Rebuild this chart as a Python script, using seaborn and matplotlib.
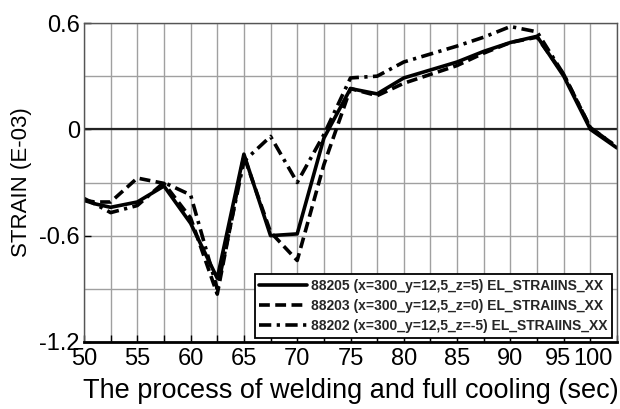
import numpy as np
import pandas as pd
import matplotlib
matplotlib.use("Agg")
import matplotlib.pyplot as plt
import matplotlib.transforms as mtransforms
from matplotlib.ticker import MultipleLocator, FixedLocator
import seaborn as sns

# ---- data ----
time_s = [50, 51, 52.5, 55, 57.5, 60, 62.5, 65, 67.5, 70, 72.5, 75, 77.5,
          80, 85, 87.5, 90, 92.5, 95, 97.5, 100]
strain_88205 = [-0.40, -0.42, -0.44, -0.41, -0.32, -0.53, -0.84, -0.14, -0.60,
                -0.59, -0.05, 0.23, 0.20, 0.29, 0.38, 0.44, 0.49, 0.525, 0.30,
                0.00, -0.105]
strain_88203 = [-0.40, -0.41, -0.41, -0.275, -0.305, -0.50, -0.93, -0.15, -0.58,
                -0.74, -0.20, 0.23, 0.19, 0.26, 0.36, 0.43, 0.49, 0.52, 0.31,
                0.01, -0.10]
strain_88202 = [-0.39, -0.42, -0.47, -0.43, -0.30, -0.37, -0.90, -0.18, -0.04,
                -0.30, -0.03, 0.29, 0.30, 0.38, 0.47, 0.52, 0.58, 0.55, 0.31,
                0.01, -0.10]
series_labels = ["88205 (x=300_y=12,5_z=5) EL_STRAIINS_XX",
                 "88203 (x=300_y=12,5_z=0) EL_STRAIINS_XX",
                 "88202 (x=300_y=12,5_z=-5) EL_STRAIINS_XX"]
x_ticks = [50, 55, 60, 65, 70, 75, 80, 85, 90, 95, 100]
y_ticks = [-1.2, -0.6, 0, 0.6]
y_tick_labels = ["-1.2", "-0.6", "0", "0.6"]
x_label = "The process of welding and full cooling (sec)"
y_label = "STRAIN (E-03)"

sns.set_theme(style="white")
plt.rcParams["font.family"] = ["Liberation Sans", "DejaVu Sans"]

fig = plt.figure(figsize=(6.2, 4.09), dpi=100)
ax = fig.add_axes([84 / 620, 1 - 342 / 409, 533 / 620, 319 / 409])

styles = ["-", "--", "-."]
dash_patterns = [None, (3.0, 1.5), (3.4, 1.5, 0.9, 1.5)]
for vals, lab, ls, dp in zip([strain_88205, strain_88203, strain_88202],
                             series_labels, styles, dash_patterns):
    sns.lineplot(x=time_s, y=vals, ax=ax, color="black", linewidth=2.6,
                 linestyle=ls, label=lab, sort=False)
    if dp is not None:
        ax.lines[-1].set_dashes(dp)

ax.axhline(0, color="#222222", linewidth=1.6, zorder=1)

ax.set_xlim(50, 100)
ax.set_ylim(-1.2, 0.6)
ax.xaxis.set_major_locator(FixedLocator(x_ticks))
ax.xaxis.set_minor_locator(MultipleLocator(2.5))
ax.yaxis.set_major_locator(FixedLocator(y_ticks))
ax.yaxis.set_minor_locator(MultipleLocator(0.3))
ax.set_yticklabels(y_tick_labels)
ax.grid(True, which="both", color="#a0a0a0", linewidth=1.0)
ax.set_axisbelow(True)

ax.tick_params(axis="both", which="both", direction="in", labelsize=17,
               colors="black")
ax.tick_params(axis="x", which="major", length=5, width=1, pad=4)
ax.tick_params(axis="x", which="minor", length=5, width=1)
ax.tick_params(axis="y", which="major", length=5, width=1, pad=3)
ax.tick_params(axis="y", which="minor", length=0)
ax.tick_params(bottom=True, left=True, which="both")

for s in ["top", "right", "left"]:
    ax.spines[s].set_color("#555555")
    ax.spines[s].set_linewidth(1.0)
ax.spines["bottom"].set_color("black")
ax.spines["bottom"].set_linewidth(2.0)

# "95" and "100" labels are squeezed together at the right end
labels = ax.get_xticklabels()
off95 = mtransforms.ScaledTranslation(-6 / 100, 0, fig.dpi_scale_trans)
labels[-2].set_transform(labels[-2].get_transform() + off95)
labels[-1].set_horizontalalignment("right")
off100 = mtransforms.ScaledTranslation(-4 / 100, 0, fig.dpi_scale_trans)
labels[-1].set_transform(labels[-1].get_transform() + off100)

ax.set_xlabel(x_label, fontsize=19.5, labelpad=6, color="black")
ax.set_ylabel(y_label, fontsize=16, labelpad=5, color="black")

leg = ax.legend(loc="lower right", bbox_to_anchor=(0.991, 0.0125),
                borderaxespad=0, frameon=True, fancybox=False,
                framealpha=1, edgecolor="black", handlelength=3.4,
                handletextpad=0.3, labelspacing=0.45, borderpad=0.35,
                prop={"family": ["Liberation Sans"],
                      "weight": "bold", "size": 10})
leg.get_frame().set_linewidth(1.3)

fig.savefig("out.png", dpi=100)
